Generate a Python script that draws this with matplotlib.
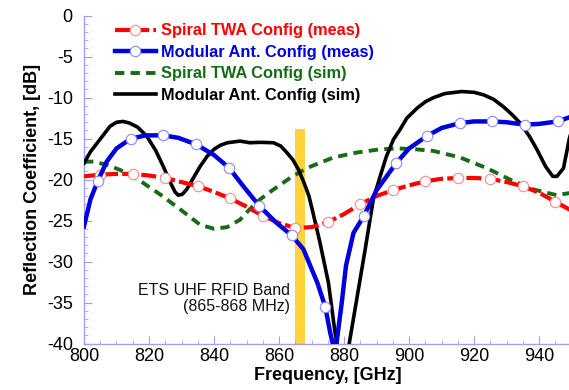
import numpy as np
import matplotlib
matplotlib.use('Agg')
import matplotlib.pyplot as plt

# Spiral TWA config, measured (every 5 GHz, markers every 10 GHz from 805)
red_f = [800, 805, 810, 815, 820, 825, 830, 835, 840, 845, 850, 855, 860, 865, 870,
         875, 880, 885, 890, 895, 900, 905, 910, 915, 920, 925, 930, 935, 940, 945, 950]
red_db = [-19.6, -19.4, -19.3, -19.3, -19.5, -19.8, -20.3, -20.8, -21.5, -22.3, -23.3,
          -24.4, -25.3, -25.9, -25.8, -25.2, -24.2, -23.0, -22.0, -21.3, -20.7, -20.2,
          -19.9, -19.8, -19.8, -19.9, -20.3, -20.8, -21.6, -22.7, -23.8]
red_marks = [805, 815, 825, 835, 845, 855, 865, 875, 885, 895, 905, 915, 925, 935, 945]

# Modular antenna config, measured
blue_f = [800, 802, 804.2, 807, 810, 814.4, 819, 824.4, 829, 834.5, 840, 844.7, 849,
          853.9, 859, 863.9, 867.5, 871.8, 874.2, 875.7, 876.8, 877.5, 879.3, 880.6,
          882.9, 886.0, 890, 896, 900, 905.4, 910, 915.7, 920, 925.6, 930, 935.7, 940,
          945.7, 950]
blue_db = [-25.7, -22.4, -20.2, -17.8, -16.2, -15.0, -14.6, -14.6, -14.9, -15.7, -17.0,
           -18.6, -20.8, -23.2, -25.2, -26.8, -28.5, -32.6, -35.5, -38.6, -40.5, -40.5,
           -35.0, -30.5, -26.5, -24.5, -21.3, -18.0, -16.2, -14.7, -13.7, -13.1, -12.9,
           -12.9, -13.0, -13.3, -13.2, -12.9, -12.3]
blue_marks = [804.2, 814.4, 824.4, 834.5, 844.7, 853.9, 863.9, 874.2, 886.0, 896,
              905.4, 915.7, 925.6, 935.7, 945.7]

# Spiral TWA config, simulated
green_f = [800, 803, 807, 811, 816.7, 823.4, 829.5, 835.7, 840, 844, 848, 851, 854.2,
           858.3, 863.4, 868.5, 876.7, 883.9, 891.1, 897, 902, 907.5, 915.7, 923.9,
           931.1, 938.3, 945.4, 948.5, 950]
green_db = [-17.8, -17.8, -18.2, -18.8, -20.0, -21.8, -23.6, -25.5, -26.0, -25.8, -24.9,
            -23.6, -22.4, -21.2, -19.8, -18.6, -17.3, -16.7, -16.3, -16.2, -16.3, -16.5,
            -17.3, -18.6, -20.0, -21.2, -21.9, -21.7, -21.6]

# Modular antenna config, simulated
black_f = [800, 802, 804.9, 808, 810, 812, 814, 816.5, 819.3, 822, 824.4, 826.5, 828,
           829, 830.2, 831.6, 833.5, 835.7, 838, 840, 842, 844.1, 848, 851, 854.2, 858.3,
           860.5, 862.4, 864.3, 866, 867.6, 869.2, 871.2, 872.6, 875.2, 877.2, 878.2,
           879.5, 881.2, 881.8, 883.9, 886.5, 889, 891.1, 893, 895.2, 897.2, 899.3, 902.4,
           905, 907.5, 911, 916.2, 920, 922.9, 926, 929, 931.5, 934.2, 937, 939.3, 942,
           944.2, 945.5, 947.5, 949.3, 950]
black_db = [-18.0, -16.6, -15.1, -13.5, -13.0, -12.9, -13.1, -13.6, -14.7, -16.4, -18.4,
            -20.3, -21.5, -21.9, -21.8, -21.2, -19.9, -18.4, -17.1, -16.3, -15.8, -15.5,
            -15.3, -15.5, -15.45, -15.5, -15.9, -16.7, -17.6, -18.8, -20.3, -22.0, -25.3,
            -27.7, -32.6, -38.6, -41.0, -44.0, -41.0, -39.5, -34.6, -28.5, -22.4, -19.6,
            -17.2, -15.1, -13.9, -12.5, -11.3, -10.5, -10.0, -9.5, -9.25, -9.35, -9.65,
            -10.2, -11.1, -12.0, -13.1, -14.7, -16.3, -18.4, -19.6, -19.6, -18.6, -15.0,
            -14.0]

band_lo, band_hi, band_top = 865, 868, -13.8
band_text = "ETS UHF RFID Band\n(865-868 MHz)"

labels = ['Spiral TWA Config (meas)', 'Modular Ant. Config (meas)',
          'Spiral TWA Config (sim)', 'Modular Ant. Config (sim)']

plt.rcParams['font.family'] = ['Liberation Sans', 'DejaVu Sans']
plt.rcParams['axes.unicode_minus'] = False

fig = plt.figure(figsize=(5.69, 3.90), dpi=100)
ax = fig.add_axes([0.1476, 0.1192, 0.857, 0.8405])

ax.fill_between([band_lo, band_hi], -40, band_top, color='#FFD43B', lw=0, zorder=1)

ax.plot(red_f, red_db, color='#ff0000', lw=3, dashes=(3.6, 1.0),
        marker='o', ms=7.5, mfc='white', mec='#ff8a8a', mew=0.8,
        markevery=[red_f.index(v) for v in red_marks], label=labels[0], zorder=4)
ax.plot(blue_f, blue_db, color='#0000dd', lw=3.2,
        marker='o', ms=7.5, mfc='white', mec='#8a8aff', mew=0.8,
        markevery=[blue_f.index(v) for v in blue_marks], label=labels[1], zorder=5)
ax.plot(green_f, green_db, color='#176b17', lw=2.8, dashes=(2.4, 1.6),
        label=labels[2], zorder=3)
ax.plot(black_f, black_db, color='black', lw=2.6, label=labels[3], zorder=3)

ax.text(863.4, -34.5, band_text, ha='right', va='center', multialignment='right',
        fontsize=11.5, linespacing=1.1, color='#111111')

ax.set_xlim(800, 950)
ax.set_ylim(-40, 0)
ax.set_xticks(np.arange(800, 941, 20))
ax.set_xticks(np.arange(800, 951, 5), minor=True)
ax.set_yticks(np.arange(-40, 1, 5))
ax.set_yticks(np.arange(-40, 1, 1), minor=True)

spine_col = '#a0a0f0'
for s in ['top', 'right']:
    ax.spines[s].set_visible(False)
for s in ['left', 'bottom']:
    ax.spines[s].set_color(spine_col)
    ax.spines[s].set_linewidth(1.0)
ax.tick_params(which='both', direction='in', color=spine_col, labelsize=13)
ax.tick_params(which='major', length=6)
ax.tick_params(which='minor', length=3)
ax.tick_params(axis='y', pad=8)
ax.tick_params(axis='x', pad=3)

ax.set_xlabel('Frequency, [GHz]', fontsize=13, fontweight='bold', labelpad=2)
ax.set_ylabel('Reflection Coefficient, [dB]', fontsize=13, fontweight='bold', labelpad=4)

leg = ax.legend(loc='upper left', bbox_to_anchor=(0.05, 0.997), frameon=False,
                prop={'weight': 'bold', 'size': 11.75}, labelcolor='linecolor',
                handlelength=2.5, handletextpad=0.3, labelspacing=0.4,
                borderaxespad=0)

fig.savefig('out.png', dpi=100)
